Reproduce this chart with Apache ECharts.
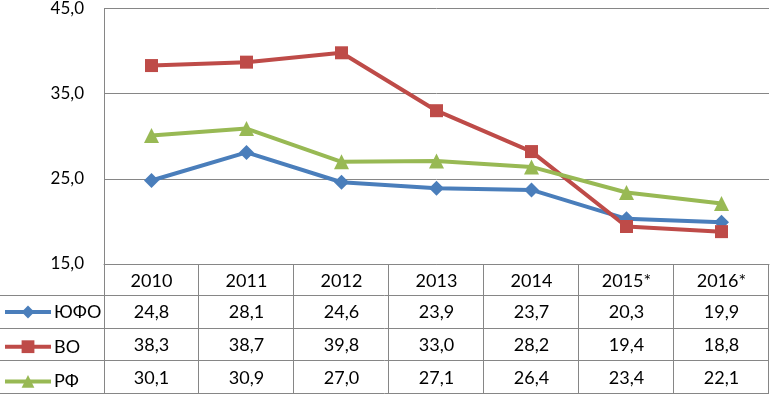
<!DOCTYPE html>
<html><head><meta charset="utf-8">
<script src="https://cdn.jsdelivr.net/npm/echarts@6/dist/echarts.min.js"></script>
<style>html,body{margin:0;padding:0;background:#fff}#c{width:770px;height:394px}</style>
</head><body><div id="c"></div>
<script>
const categories = ['2010','2011','2012','2013','2014','2015*','2016*'];
const seriesNames = ['ЮФО','ВО','РФ'];
const yufo = [24.8,28.1,24.6,23.9,23.7,20.3,19.9];
const vo = [38.3,38.7,39.8,33.0,28.2,19.4,18.8];
const rf = [30.1,30.9,27.0,27.1,26.4,23.4,22.1];
const yTicks = [15,25,35,45];

const colors = ['#4A7EBB','#BE4B48','#98B954'];
const symbols = ['diamond','rect','triangle'];
const symbolSizes = [15,13,15];
const FONT = 'Lato';
const GRID = {left:104,right:1,top:7,bottom:130};
const ROW_H = 32.7;
const fmt = v => v.toFixed(1).replace('.', ',');

const chart = echarts.init(document.getElementById('c'));
const allSeries = [yufo, vo, rf];
chart.setOption({
  animation:false,
  textStyle:{fontFamily:FONT},
  grid:GRID,
  legend:{
    orient:'vertical', left:3, top:303, padding:0, height:100, itemWidth:46, itemHeight:16, itemGap:16.7,
    itemStyle:{borderWidth:0},
    lineStyle:{width:4},
    textStyle:{fontFamily:FONT,fontSize:18,color:'#000',padding:[0,0,0,-2]},
    data:seriesNames
  },
  xAxis:{
    type:'category', data:categories, boundaryGap:true,
    axisLine:{lineStyle:{color:'#868686',width:1}}, axisTick:{show:false},
    axisLabel:{fontFamily:FONT,fontSize:18,color:'#000',margin:8}
  },
  yAxis:{
    type:'value', min:yTicks[0], max:yTicks[yTicks.length-1], interval:10,
    axisLine:{show:true,lineStyle:{color:'#868686'}}, axisTick:{show:false},
    splitLine:{lineStyle:{color:'#868686',width:1}},
    axisLabel:{fontFamily:FONT,fontSize:17,color:'#000',margin:20,formatter:v=>fmt(v)}
  },
  series: allSeries.map((d,i)=>({
    name:seriesNames[i], type:'line', data:d,
    symbol:symbols[i], symbolSize:symbolSizes[i],
    lineStyle:{width:4,color:colors[i]}, itemStyle:{color:colors[i]}
  }))
});

// data table
const base = 394 - GRID.bottom;
const right = 770 - GRID.right;
const band = (right - GRID.left) / categories.length;
const g = [];
const line = (x1,y1,x2,y2)=>g.push({type:'line',shape:{x1,y1,x2,y2},style:{stroke:'#868686',lineWidth:1}});
const headerH = 31;
const rowsTop = base + headerH;
for (let r=0;r<=3;r++){ const y = Math.round(rowsTop + r*ROW_H)+0.5; line(0,y,right,y); }
const bottomY = Math.round(rowsTop + 3*ROW_H)+0.5;
line(GRID.left+0.5, base, GRID.left+0.5, bottomY);
for (let c=1;c<=categories.length;c++){ const x = Math.round(GRID.left + c*band)-0.5; line(x, base, x, bottomY); }
categories.forEach((cat,ci)=>{
  const cx = chart.convertToPixel({xAxisIndex:0}, cat);
  allSeries.forEach((d,ri)=>{
    g.push({type:'text',style:{text:fmt(d[ci]),x:cx,y:rowsTop + ri*ROW_H + ROW_H/2+1,align:'center',verticalAlign:'middle',font:'18px '+FONT,fill:'#000'}});
  });
});
chart.setOption({graphic:g});
</script></body></html>
